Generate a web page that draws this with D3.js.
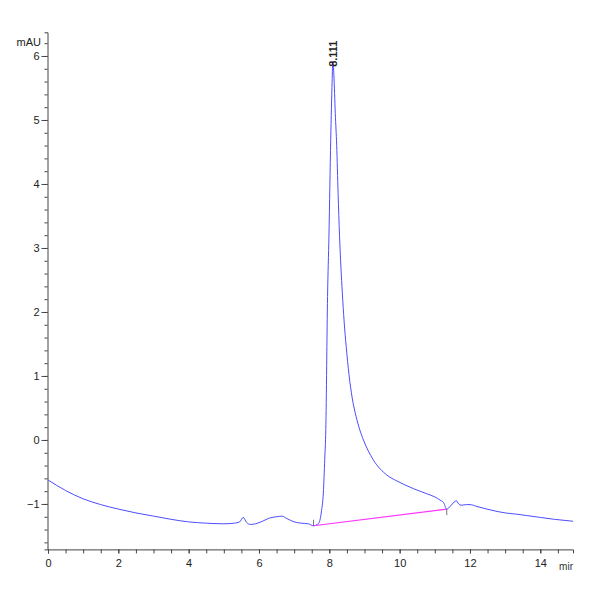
<!DOCTYPE html>
<html>
<head>
<meta charset="utf-8">
<script src="https://cdn.jsdelivr.net/npm/d3@7"></script>
<style>
  body { margin: 0; background: #fff; }
  .axis text { font-family: "Liberation Sans Narrow", "Arial Narrow", "Liberation Sans", sans-serif; font-size: 11px; fill: #222; }
  .axis path, .axis line { stroke: #444; }
</style>
</head>
<body>
<div class="chart"></div>
<script>
// retention time (min) and signal (mAU)
const time = [0, 0.5, 1, 1.5, 2, 2.5, 3, 3.5, 4, 4.5, 5, 5.3, 5.45, 5.55, 5.65, 5.75, 5.9, 6.1, 6.3, 6.5, 6.65, 6.8, 7.0, 7.2, 7.4, 7.55, 7.7, 7.78, 7.83, 7.87, 7.9, 7.95, 7.99, 8.04, 8.08, 8.1, 8.13, 8.17, 8.21, 8.25, 8.29, 8.33, 8.37, 8.42, 8.48, 8.56, 8.65, 8.76, 8.86, 8.97, 9.25, 9.64, 9.92, 10.39, 10.77, 11.0, 11.15, 11.25, 11.34, 11.45, 11.55, 11.61, 11.68, 11.75, 11.9, 12.0, 12.2, 12.48, 12.8, 13.0, 13.33, 13.6, 14.0, 14.4, 14.93];
const signal = [-0.625, -0.79, -0.92, -1.01, -1.08, -1.14, -1.19, -1.24, -1.28, -1.30, -1.31, -1.30, -1.28, -1.21, -1.29, -1.32, -1.31, -1.27, -1.22, -1.20, -1.19, -1.23, -1.28, -1.30, -1.31, -1.34, -1.30, -1.1, -0.83, -0.3, 0.16, 2.24, 3.2, 4.69, 5.6, 5.92, 5.7, 5.1, 4.6, 3.85, 3.2, 2.7, 2.3, 1.86, 1.46, 1.02, 0.66, 0.37, 0.17, 0.0, -0.31, -0.55, -0.64, -0.76, -0.84, -0.89, -0.94, -0.98, -1.08, -1.03, -0.97, -0.95, -1.0, -1.02, -1.01, -1.01, -1.04, -1.08, -1.12, -1.14, -1.16, -1.18, -1.21, -1.24, -1.27];

// integration baseline of the main peak
const baseTime = [7.55, 11.34];
const baseSignal = [-1.34, -1.08];

const peakTime = 8.111;
const peakLabel = "8.111";
const xTicks = [0, 2, 4, 6, 8, 10, 12, 14];
const yTicks = [-1, 0, 1, 2, 3, 4, 5, 6];

const width = 600, height = 600;

const xScale = d3.scaleLinear().domain([0, 14.93]).range([48, 573]);
const yScale = d3.scaleLinear().domain([-1.71, 6.37]).range([549.4, 32.3]);

const svg = d3.select(".chart").append("svg")
    .attr("width", width)
    .attr("height", height);

// minor ticks first, then labelled ones on top
const xMinor = d3.axisBottom(xScale).tickValues(d3.range(0, 15, 0.5)).tickSize(4).tickFormat("");
svg.append("g").attr("class", "axis").attr("transform", "translate(0,549.4)").call(xMinor);
const xAxis = d3.axisBottom(xScale).tickValues(xTicks).tickSize(4).tickPadding(6).tickFormat(d3.format("d"));
svg.append("g").attr("class", "axis").attr("transform", "translate(0,549.4)").call(xAxis)
    .call(g => g.select(".domain").remove());

const yMinor = d3.axisLeft(yScale).tickValues(d3.range(-1.6, 6.3, 0.2)).tickSize(3).tickFormat("");
svg.append("g").attr("class", "axis").attr("transform", "translate(47.5,0)").call(yMinor);
const yAxis = d3.axisLeft(yScale).tickValues(yTicks).tickSize(6).tickPadding(2).tickFormat(d3.format("d"));
svg.append("g").attr("class", "axis").attr("transform", "translate(47.5,0)").call(yAxis)
    .call(g => g.select(".domain").remove());

// unit labels
svg.append("text")
    .attr("x", 41).attr("y", 46)
    .attr("text-anchor", "end")
    .style("font-family", "'Liberation Sans Narrow', 'Liberation Sans', sans-serif")
    .style("font-size", "11px")
    .style("fill", "#222")
    .text("mAU");
svg.append("text")
    .attr("x", 573).attr("y", 570)
    .attr("text-anchor", "end")
    .style("font-family", "'Liberation Sans Narrow', 'Liberation Sans', sans-serif")
    .style("font-size", "10px")
    .style("fill", "#333")
    .text("mir");

const data = time.map((t, i) => ({ t: t, v: signal[i] }));

const line = d3.line()
    .x(d => xScale(d.t))
    .y(d => yScale(d.v))
    .curve(d3.curveMonotoneX);

svg.append("path")
    .datum(data)
    .attr("d", line)
    .attr("fill", "none")
    .attr("stroke", "#4d4dff")
    .attr("stroke-width", 1);

// baseline
svg.append("line")
    .attr("x1", xScale(baseTime[0])).attr("y1", yScale(baseSignal[0]))
    .attr("x2", xScale(baseTime[1])).attr("y2", yScale(baseSignal[1]))
    .attr("stroke", "#ff33ff")
    .attr("stroke-width", 1.2);

// small marks at baseline ends
svg.append("line")
    .attr("x1", xScale(baseTime[0])).attr("x2", xScale(baseTime[0]))
    .attr("y1", yScale(baseSignal[0]) - 6).attr("y2", yScale(baseSignal[0]))
    .attr("stroke", "#555").attr("stroke-width", 0.8);
svg.append("line")
    .attr("x1", xScale(baseTime[1])).attr("x2", xScale(baseTime[1]))
    .attr("y1", yScale(baseSignal[1])).attr("y2", yScale(baseSignal[1]) + 6)
    .attr("stroke", "#555").attr("stroke-width", 0.8);

// peak retention time label
const px = xScale(peakTime) + 4, py = yScale(5.83);
svg.append("text")
    .attr("transform", `translate(${px},${py}) rotate(-90)`)
    .attr("text-anchor", "start")
    .style("font-family", "'Liberation Sans', sans-serif")
    .style("font-size", "11px")
    .style("font-weight", "bold")
    .style("fill", "#222")
    .text(peakLabel);
</script>
</body>
</html>
